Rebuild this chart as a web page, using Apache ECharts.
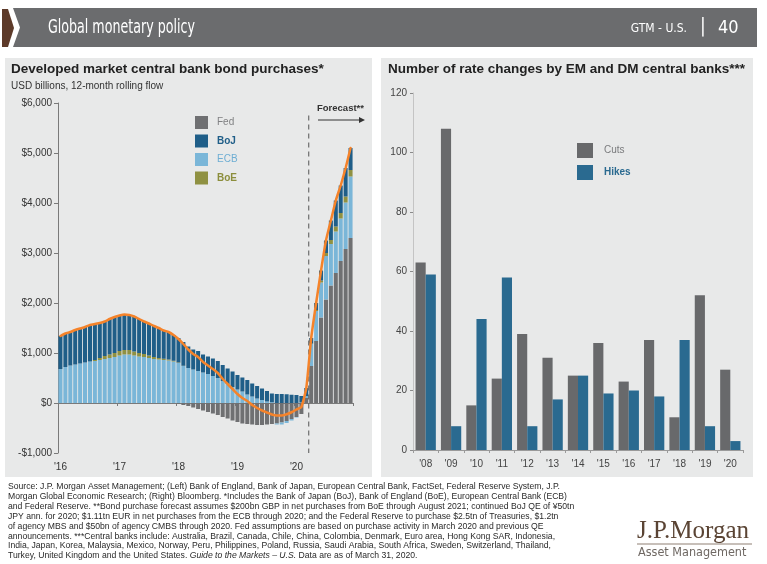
<!DOCTYPE html>
<html>
<head>
<meta charset="utf-8">
<script src="https://cdn.jsdelivr.net/npm/echarts@6/dist/echarts.min.js"></script>
<style>
  html, body { margin: 0; padding: 0; background: #ffffff; }
  #chart { width: 767px; height: 564px; }
</style>
</head>
<body>
<div id="chart"></div>
<script>
// ---- Left panel: 12-month rolling bond purchases, USD billions (Jan 2016 - Dec 2020) ----
const years = ['16', '17', '18', '19', '20'];
const monthNames = ['Jan', 'Feb', 'Mar', 'Apr', 'May', 'Jun', 'Jul', 'Aug', 'Sep', 'Oct', 'Nov', 'Dec'];
const months = [];
years.forEach(y => monthNames.forEach(m => months.push(m + ' ' + y)));

const fed = [
  0, 0, 0, 0, 0, 0, 0, 0, 0, 0, 0, 0,
  0, 0, 0, 0, 0, 0, 0, 0, 0, 0, 0, 0,
  -20, -40, -60, -90, -120, -150, -180, -210, -240, -280, -310, -350,
  -380, -410, -420, -430, -440, -440, -430, -420, -410, -390, -360, -320,
  -280, -220, 100, 740, 1240, 1710, 2070, 2350, 2600, 2840, 3080, 3300
];
const ecb = [
  680, 720, 750, 770, 790, 810, 830, 840, 860, 880, 900, 920,
  950, 970, 970, 950, 930, 920, 900, 880, 870, 860, 850, 830,
  800, 740, 700, 670, 640, 610, 580, 540, 500, 440, 380, 320,
  270, 230, 170, 130, 90, 60, 30, 15, -20, -40, -40, -30,
  -10, 10, 40, 440, 600, 700, 870, 830, 830, 850, 930, 1230
];
const boe = [
  0, 0, 0, 0, 0, 0, 0, 20, 40, 60, 70, 80,
  90, 90, 90, 80, 70, 60, 50, 40, 30, 25, 20, 15,
  10, 5, 0, 0, 0, 0, 0, 0, 0, 0, 0, 0,
  0, 0, 0, 0, 0, 0, 0, 0, 0, 0, 0, 0,
  0, 0, 0, 10, 20, 40, 60, 80, 100, 110, 120, 130
];
const boj = [
  660, 670, 670, 690, 700, 710, 730, 720, 700, 690, 710, 720,
  710, 710, 700, 700, 680, 650, 640, 620, 600, 565, 550, 515,
  490, 475, 430, 400, 400, 360, 350, 350, 340, 320, 310, 310,
  290, 280, 290, 260, 250, 230, 210, 175, 180, 180, 175, 165,
  160, 130, 160, 110, 140, 200, 250, 390, 520, 550, 570, 440
];
// forecast begins with Apr 2020
const forecastStart = months.indexOf('Apr 20');

// ---- Right panel: number of rate changes by EM and DM central banks ----
const rateYears = ["'08", "'09", "'10", "'11", "'12", "'13", "'14", "'15", "'16", "'17", "'18", "'19", "'20"];
const cuts  = [63, 108, 15, 24, 39, 31, 25, 36, 23, 37, 11, 52, 27];
const hikes = [59, 8, 44, 58, 8, 17, 25, 19, 20, 18, 37, 8, 3];

const leftTicks = { min: -1000, max: 6000, interval: 1000 };
const rightTicks = { min: 0, max: 120, interval: 20 };

const total = fed.map((v, i) => v + ecb[i] + boe[i] + boj[i]);

const C = {
  fed: '#6f7072', boj: '#1f5e88', ecb: '#7ab6d8', boe: '#8f9142',
  total: '#f5832a', cuts: '#68696b', hikes: '#2a6a90',
  panel: '#e8e9e9', text: '#2a2a2a'
};

const money = v => (v < 0 ? '-$' : '$') + Math.abs(v).toLocaleString('en-US');

const footLines = [
  'Source: J.P. Morgan Asset Management; (Left) Bank of England, Bank of Japan, European Central Bank, FactSet, Federal Reserve System, J.P.',
  'Morgan Global Economic Research; (Right) Bloomberg. *Includes the Bank of Japan (BoJ), Bank of England (BoE), European Central Bank (ECB)',
  'and Federal Reserve. **Bond purchase forecast assumes $200bn GBP in net purchases from BoE through August 2021; continued BoJ QE of ¥50tn',
  'JPY ann. for 2020; $1.11tn EUR in net purchases from the ECB through 2020; and the Federal Reserve to purchase $2.5tn of Treasuries, $1.2tn',
  'of agency MBS and $50bn of agency CMBS through 2020. Fed assumptions are based on purchase activity in March 2020 and previous QE',
  'announcements. ***Central banks include: Australia, Brazil, Canada, Chile, China, Colombia, Denmark, Euro area, Hong Kong SAR, Indonesia,',
  'India, Japan, Korea, Malaysia, Mexico, Norway, Peru, Philippines, Poland, Russia, Saudi Arabia, South Africa, Sweden, Switzerland, Thailand,',
  '{n|Turkey, United Kingdom and the United States. }{i|Guide to the Markets – U.S.}{n| Data are as of March 31, 2020.}'
];

const FONT = '"Liberation Sans", Arial, sans-serif';
const NARROW = '"Liberation Sans Narrow", "DejaVu Sans Condensed", sans-serif';
const FOOT_SIZE = 8.65;

const graphics = [
  // panel backgrounds
  { type: 'rect', z: -10, silent: true, shape: { x: 5, y: 58, width: 367, height: 419 }, style: { fill: C.panel } },
  { type: 'rect', z: -10, silent: true, shape: { x: 381, y: 58, width: 372, height: 419 }, style: { fill: C.panel } },
  // header band
  { type: 'polygon', z: -5, silent: true, shape: { points: [[2, 9], [8, 9], [14, 28], [8, 47], [2, 47]] }, style: { fill: '#5d3a29' } },
  { type: 'polygon', z: -5, silent: true, shape: { points: [[13, 8], [757, 8], [757, 47], [13, 47], [20, 27.5]] }, style: { fill: '#6b6c6e' } },
  { type: 'text', z: 5, silent: true, x: 48, y: 28, scaleX: 0.74, style: { text: 'Global monetary policy', fill: '#ffffff', font: '19px ' + NARROW, verticalAlign: 'middle' } },
  { type: 'text', z: 5, silent: true, x: 687, y: 29, style: { text: 'GTM - U.S.', fill: '#ffffff', font: '12px ' + NARROW, align: 'right', verticalAlign: 'middle' } },
  { type: 'text', z: 5, silent: true, x: 703, y: 27, style: { text: '|', fill: '#ffffff', font: '19px ' + NARROW, align: 'center', verticalAlign: 'middle' } },
  { type: 'text', z: 5, silent: true, x: 718, y: 28, style: { text: '40', fill: '#ffffff', font: '18px ' + NARROW, verticalAlign: 'middle' } },
  // forecast annotation
  { type: 'text', z: 5, silent: true, x: 317, y: 108, style: { text: 'Forecast**', fill: '#333333', font: 'bold 9.5px ' + FONT, verticalAlign: 'middle' } },
  { type: 'line', z: 5, silent: true, shape: { x1: 318, y1: 120, x2: 360, y2: 120 }, style: { stroke: '#333333', lineWidth: 1 } },
  { type: 'polygon', z: 5, silent: true, shape: { points: [[359, 117], [365, 120], [359, 123]] }, style: { fill: '#333333' } },
  // logo
  { type: 'text', z: 5, silent: true, x: 637, y: 531, style: { text: 'J.P.Morgan', fill: '#5a4434', font: '25px "Liberation Serif", "DejaVu Serif", serif', verticalAlign: 'middle' } },
  { type: 'line', z: 5, silent: true, shape: { x1: 637, y1: 544, x2: 752, y2: 544 }, style: { stroke: '#b5aaa2', lineWidth: 1.5 } },
  { type: 'text', z: 5, silent: true, x: 638, y: 553, style: { text: 'Asset Management', fill: '#6f6863', font: '12.5px "DejaVu Sans Condensed", "Liberation Sans", sans-serif', verticalAlign: 'middle' } }
];

footLines.forEach((t, i) => {
  graphics.push({
    type: 'text', z: 5, silent: true, x: 8, y: 487 + i * 9.85,
    style: {
      text: t, fill: C.text, font: FOOT_SIZE + 'px ' + FONT, verticalAlign: 'middle',
      rich: {
        n: { fontSize: FOOT_SIZE, fontFamily: FONT, fill: C.text },
        i: { fontSize: FOOT_SIZE, fontFamily: FONT, fontStyle: 'italic', fill: C.text }
      }
    }
  });
});

const axisTextL = { fontSize: 10, color: '#333333', fontFamily: FONT };

const option = {
  animation: false,
  backgroundColor: '#ffffff',
  title: [
    {
      text: 'Developed market central bank bond purchases*',
      subtext: 'USD billions, 12-month rolling flow',
      left: 11, top: 62, itemGap: 5, padding: 0,
      textStyle: { fontSize: 13.5, fontWeight: 'bold', color: '#222222', fontFamily: FONT },
      subtextStyle: { fontSize: 10, color: '#333333', fontFamily: FONT }
    },
    {
      text: 'Number of rate changes by EM and DM central banks***',
      left: 388, top: 62, padding: 0,
      textStyle: { fontSize: 13.5, fontWeight: 'bold', color: '#222222', fontFamily: FONT }
    }
  ],
  legend: [
    {
      orient: 'vertical', left: 190, top: 111, itemWidth: 13, itemHeight: 13, itemGap: 5.5,
      icon: 'rect', selectedMode: false,
      textStyle: { fontSize: 10, fontFamily: FONT, padding: [0, 0, 0, 4] },
      data: [
        { name: 'Fed', textStyle: { color: '#808183' } },
        { name: 'BoJ', textStyle: { color: C.boj, fontWeight: 'bold' } },
        { name: 'ECB', textStyle: { color: '#6eaed3' } },
        { name: 'BoE', textStyle: { color: '#8c8e3c', fontWeight: 'bold' } }
      ]
    },
    {
      orient: 'vertical', left: 572, top: 138, itemWidth: 16, itemHeight: 15, itemGap: 7,
      icon: 'rect', selectedMode: false,
      textStyle: { fontSize: 10, fontFamily: FONT, padding: [0, 0, 0, 6] },
      data: [
        { name: 'Cuts', textStyle: { color: '#7a7b7d' } },
        { name: 'Hikes', textStyle: { color: C.hikes, fontWeight: 'bold' } }
      ]
    }
  ],
  grid: [
    { left: 58, top: 103, width: 295, height: 350 },
    { left: 413, top: 93, width: 330, height: 357 }
  ],
  xAxis: [
    { // zero line with year ticks
      gridIndex: 0, type: 'category', data: months,
      axisLine: { onZero: true, lineStyle: { color: '#7a7a7a', width: 1 } },
      axisTick: { show: true, interval: 11, length: 3, lineStyle: { color: '#7a7a7a' } },
      axisLabel: { show: false }
    },
    { // year labels along the bottom
      gridIndex: 0, type: 'category', data: months, position: 'bottom',
      axisLine: { show: false, onZero: false }, axisTick: { show: false },
      axisLabel: Object.assign({ interval: 11, margin: 9, formatter: v => "'" + v.slice(-2) }, axisTextL)
    },
    { // month-index scale for the forecast divider
      gridIndex: 0, type: 'value', min: 0, max: months.length, show: false
    },
    {
      gridIndex: 1, type: 'category', data: rateYears,
      axisLine: { onZero: true, lineStyle: { color: '#9a9a9a' } },
      axisTick: { show: true, length: 3, lineStyle: { color: '#9a9a9a' } },
      axisLabel: { fontSize: 10, color: '#444444', fontFamily: FONT, margin: 9 }
    }
  ],
  yAxis: [
    {
      gridIndex: 0, type: 'value', min: leftTicks.min, max: leftTicks.max, interval: leftTicks.interval,
      axisLine: { show: true, lineStyle: { color: '#7a7a7a' } },
      axisTick: { show: true, length: 4, lineStyle: { color: '#7a7a7a' } },
      splitLine: { show: false },
      axisLabel: Object.assign({ margin: 6, formatter: money }, axisTextL)
    },
    {
      gridIndex: 1, type: 'value', min: rightTicks.min, max: rightTicks.max, interval: rightTicks.interval,
      axisLine: { show: true, lineStyle: { color: '#c4c4c4' } },
      axisTick: { show: true, length: 3, lineStyle: { color: '#8a8a8a' } },
      splitLine: { show: false },
      axisLabel: { margin: 6, fontSize: 10, color: '#444444', fontFamily: FONT }
    }
  ],
  series: [
    { name: 'Fed', type: 'bar', stack: 'cb', xAxisIndex: 0, yAxisIndex: 0, data: fed, itemStyle: { color: C.fed }, barCategoryGap: '18%' },
    { name: 'ECB', type: 'bar', stack: 'cb', xAxisIndex: 0, yAxisIndex: 0, data: ecb, itemStyle: { color: C.ecb } },
    { name: 'BoE', type: 'bar', stack: 'cb', xAxisIndex: 0, yAxisIndex: 0, data: boe, itemStyle: { color: C.boe } },
    { name: 'BoJ', type: 'bar', stack: 'cb', xAxisIndex: 0, yAxisIndex: 0, data: boj, itemStyle: { color: C.boj } },
    {
      name: 'Total', type: 'line', xAxisIndex: 0, yAxisIndex: 0, data: total, z: 5,
      symbol: 'none', smooth: 0.15, lineStyle: { color: C.total, width: 2.5, cap: 'round', join: 'round' }
    },
    {
      name: 'Forecast start', type: 'line', xAxisIndex: 2, yAxisIndex: 0, z: 4, symbol: 'none',
      data: [[forecastStart, 5750], [forecastStart, leftTicks.min]],
      lineStyle: { color: '#555555', width: 1, type: [5, 4] }
    },
    { name: 'Cuts', type: 'bar', xAxisIndex: 3, yAxisIndex: 1, data: cuts, itemStyle: { color: C.cuts }, barGap: '0%', barCategoryGap: '20%' },
    { name: 'Hikes', type: 'bar', xAxisIndex: 3, yAxisIndex: 1, data: hikes, itemStyle: { color: C.hikes } }
  ],
  graphic: graphics
};

const chart = echarts.init(document.getElementById('chart'), null, { renderer: 'canvas' });
chart.setOption(option);
</script>
</body>
</html>
